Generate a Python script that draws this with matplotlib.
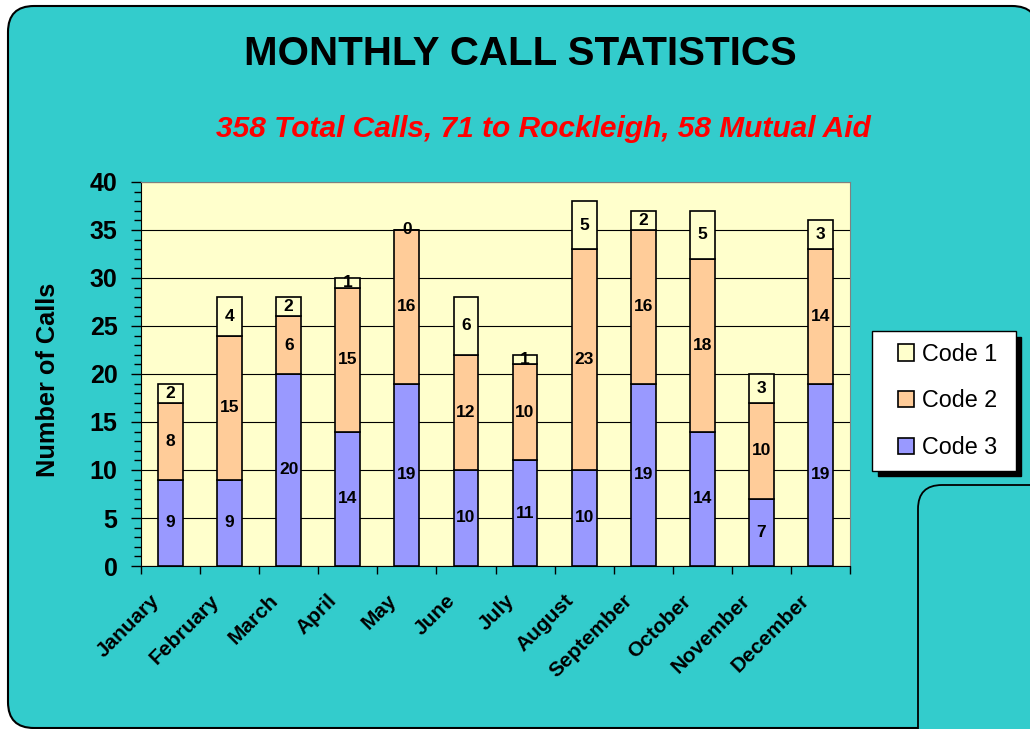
import matplotlib
matplotlib.use('Agg')
import matplotlib.pyplot as plt
import matplotlib.patches as mpatches
from matplotlib.transforms import IdentityTransform, ScaledTranslation
from matplotlib.legend_handler import HandlerPatch
import numpy as np

plt.rcParams['font.family'] = ['Liberation Sans', 'DejaVu Sans']

# datos
meses = ['January', 'February', 'March', 'April', 'May', 'June', 'July',
         'August', 'September', 'October', 'November', 'December']
code3 = [9, 9, 20, 14, 19, 10, 11, 10, 19, 14, 7, 19]
code2 = [8, 15, 6, 15, 16, 12, 10, 23, 16, 18, 10, 14]
code1 = [2, 4, 2, 1, 0, 6, 1, 5, 2, 5, 3, 3]

titulo = 'MONTHLY CALL STATISTICS'
subtitulo = '358 Total Calls, 71 to Rockleigh, 58 Mutual Aid'

col3 = '#9999FF'
col2 = '#FFCC99'
col1 = '#FFFFCC'
teal = '#33CCCC'

fig = plt.figure(figsize=(10.3, 7.29), dpi=100, facecolor='white')

# fondo redondeado (en pixeles)
fondo = mpatches.FancyBboxPatch((8, 1), 1030, 722, boxstyle='round,pad=0,rounding_size=26',
                                transform=IdentityTransform(), facecolor=teal,
                                edgecolor='black', linewidth=1.5, zorder=-3)
fig.patches.append(fondo)
caja2 = mpatches.FancyBboxPatch((918, -40), 200, 284, boxstyle='round,pad=0,rounding_size=24',
                                transform=IdentityTransform(), facecolor=teal,
                                edgecolor='black', linewidth=1.3, zorder=-2)
fig.patches.append(caja2)

fig.text(0.505, 1 - 54 / 729, titulo, ha='center', va='center',
         fontsize=29, fontweight='bold', color='black')
fig.text(0.528, 1 - 129 / 729, subtitulo, ha='center', va='center',
         fontsize=21.5, fontweight='bold', fontstyle='italic', color='#FF0000')

ax = fig.add_axes([141 / 1030, 1 - 566 / 729, 709 / 1030, 384 / 729])
ax.set_facecolor('#FFFFCC')

x = np.arange(len(meses))
ancho = 0.42
b3 = ax.bar(x, code3, ancho, color=col3, edgecolor='black', linewidth=1.2, zorder=3)
b2 = ax.bar(x, code2, ancho, bottom=code3, color=col2, edgecolor='black', linewidth=1.2, zorder=3)
base1 = np.array(code3) + np.array(code2)
b1 = ax.bar(x, code1, ancho, bottom=base1, color=col1, edgecolor='black', linewidth=1.2, zorder=3)

for cont, vals in [(b3, code3), (b2, code2), (b1, code1)]:
    ax.bar_label(cont, labels=[str(v) for v in vals], label_type='center',
                 fontsize=12.5, fontweight='bold', zorder=4)

ax.set_xlim(-0.5, len(meses) - 0.5)
ax.set_ylim(0, 40)
ax.set_yticks(range(0, 41, 5))
ax.set_yticks(range(0, 41, 1), minor=True)
ax.yaxis.grid(True, which='major', color='black', linewidth=0.8, zorder=1)
ax.set_axisbelow(True)
ax.tick_params(axis='y', which='major', direction='out', length=7, width=1,
               pad=10, labelsize=18)
ax.tick_params(axis='y', which='minor', direction='out', length=5, width=1)
for lab in ax.get_yticklabels():
    lab.set_fontweight('bold')

ax.set_xticks(x)
ax.set_xticklabels(meses, rotation=45, ha='right', fontsize=15, fontweight='bold')
ax.set_xticks(np.arange(-0.5, len(meses), 1), minor=True)
ax.tick_params(axis='x', which='major', length=0, pad=18)
ax.tick_params(axis='x', which='minor', direction='out', length=6, width=1)
desplaz = ScaledTranslation(-0.07, 0, fig.dpi_scale_trans)
for lab in ax.get_xticklabels():
    lab.set_transform(lab.get_transform() + desplaz)

for lado in ['top', 'right']:
    ax.spines[lado].set_color('#808080')
for lado in ['left', 'bottom']:
    ax.spines[lado].set_color('black')

fig.text(48 / 1030, 1 - 380 / 729, 'Number of Calls', rotation=90, ha='center', va='center',
         fontsize=18.3, fontweight='bold')

manijas = [mpatches.Patch(facecolor=col1, edgecolor='black', linewidth=1.2),
           mpatches.Patch(facecolor=col2, edgecolor='black', linewidth=1.2),
           mpatches.Patch(facecolor=col3, edgecolor='black', linewidth=1.2)]
leg = fig.legend(manijas, ['Code 1 ', 'Code 2 ', 'Code 3 '], loc='upper left',
                 bbox_to_anchor=(872 / 1030, 1 - 331 / 729), borderaxespad=0,
                 fontsize=16.8, frameon=True, fancybox=False, framealpha=1,
                 edgecolor='black', borderpad=0.5, labelspacing=1.02,
                 handlelength=1.3, handleheight=0.7, handletextpad=0.35,
                 handler_map={mpatches.Patch: HandlerPatch(xpad=0.6)},
                 shadow={'ox': 4, 'oy': -4, 'shade': 1, 'alpha': 1})
leg.get_frame().set_linewidth(1)

fig.savefig('out.png', dpi=100, facecolor='white')
